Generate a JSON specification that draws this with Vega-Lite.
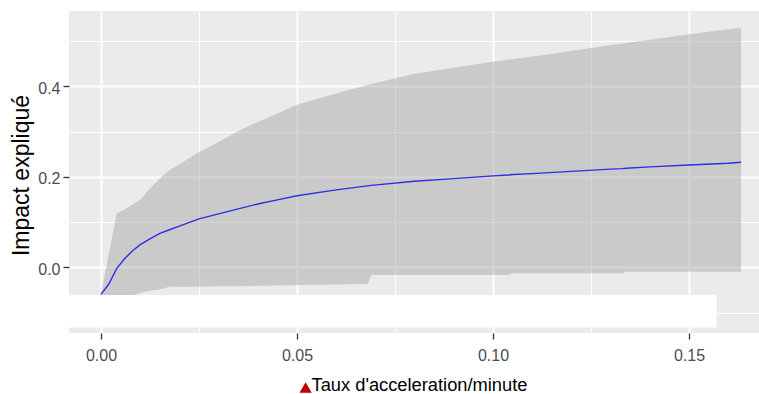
{
  "$schema": "https://vega.github.io/schema/vega-lite/v6.json",
  "width": 690,
  "height": 322,
  "autosize": {"type": "none"},
  "padding": {"left": 69, "top": 11, "right": 0, "bottom": 61},
  "background": "white",
  "config": {
    "view": {"fill": "#EBEBEB", "stroke": null}
  },
  "datasets": {
    "fit": [
      {"x": 0, "fit": -0.060, "lo": -0.113, "hi": -0.060},
      {"x": 0.002, "fit": -0.037, "lo": -0.090, "hi": 0.030},
      {"x": 0.004, "fit": -0.003, "lo": -0.075, "hi": 0.119},
      {"x": 0.006, "fit": 0.019, "lo": -0.068, "hi": 0.128},
      {"x": 0.008, "fit": 0.036, "lo": -0.064, "hi": 0.138},
      {"x": 0.010, "fit": 0.050, "lo": -0.056, "hi": 0.149},
      {"x": 0.0125, "fit": 0.063, "lo": -0.052, "hi": 0.174},
      {"x": 0.015, "fit": 0.075, "lo": -0.049, "hi": 0.196},
      {"x": 0.0175, "fit": 0.083, "lo": -0.043, "hi": 0.215},
      {"x": 0.020, "fit": 0.091, "lo": -0.043, "hi": 0.228},
      {"x": 0.025, "fit": 0.107, "lo": -0.043, "hi": 0.254},
      {"x": 0.030, "fit": 0.118, "lo": -0.042, "hi": 0.277},
      {"x": 0.035, "fit": 0.129, "lo": -0.042, "hi": 0.301},
      {"x": 0.040, "fit": 0.140, "lo": -0.041, "hi": 0.321},
      {"x": 0.045, "fit": 0.149, "lo": -0.040, "hi": 0.340},
      {"x": 0.050, "fit": 0.158, "lo": -0.039, "hi": 0.359},
      {"x": 0.060, "fit": 0.171, "lo": -0.038, "hi": 0.384},
      {"x": 0.068, "fit": 0.180, "lo": -0.037, "hi": 0.403},
      {"x": 0.069, "fit": 0.181, "lo": -0.017, "hi": 0.405},
      {"x": 0.080, "fit": 0.190, "lo": -0.017, "hi": 0.428},
      {"x": 0.090, "fit": 0.196, "lo": -0.017, "hi": 0.441},
      {"x": 0.100, "fit": 0.202, "lo": -0.017, "hi": 0.454},
      {"x": 0.104, "fit": 0.204, "lo": -0.017, "hi": 0.459},
      {"x": 0.105, "fit": 0.205, "lo": -0.013, "hi": 0.460},
      {"x": 0.110, "fit": 0.207, "lo": -0.013, "hi": 0.466},
      {"x": 0.120, "fit": 0.212, "lo": -0.013, "hi": 0.478},
      {"x": 0.130, "fit": 0.217, "lo": -0.013, "hi": 0.491},
      {"x": 0.133, "fit": 0.218, "lo": -0.013, "hi": 0.494},
      {"x": 0.134, "fit": 0.219, "lo": -0.010, "hi": 0.496},
      {"x": 0.140, "fit": 0.222, "lo": -0.010, "hi": 0.503},
      {"x": 0.150, "fit": 0.226, "lo": -0.010, "hi": 0.515},
      {"x": 0.160, "fit": 0.230, "lo": -0.010, "hi": 0.526},
      {"x": 0.1633, "fit": 0.232, "lo": -0.010, "hi": 0.530}
    ],
    "cover": [
      {"x1": -0.00816, "x2": 0.15707, "y1": -0.0612, "y2": -0.133}
    ],
    "marker": [
      {"x": 0.0522, "y": -0.2656}
    ]
  },
  "layer": [
    {
      "data": {"name": "fit"},
      "mark": {"type": "area", "fill": "#999999", "fillOpacity": 0.4},
      "encoding": {
        "x": {
          "field": "x", "type": "quantitative",
          "scale": {"domain": [-0.00816, 0.16786], "nice": false, "zero": false},
          "axis": {
            "values": [0, 0.025, 0.05, 0.075, 0.1, 0.125, 0.15],
            "format": ".2f",
            "labelExpr": "abs(datum.value*20 - round(datum.value*20)) < 1e-6 ? datum.label : ''",
            "domain": false,
            "grid": true,
            "gridColor": "white",
            "gridWidth": {"condition": {"test": "abs(datum.value*20 - round(datum.value*20)) < 1e-6", "value": 1.8}, "value": 1},
            "tickOpacity": {"condition": {"test": "abs(datum.value*20 - round(datum.value*20)) < 1e-6", "value": 1}, "value": 0},
            "tickColor": "#333333", "tickSize": 6, "tickWidth": 1.3,
            "labelFont": "Liberation Sans", "labelFontSize": 16, "labelColor": "#4D4D4D",
            "labelPadding": 8, "labelFlush": false, "labelOverlap": false, "labelBound": false,
            "title": "Taux d'acceleration/minute",
            "titleFont": "Liberation Sans", "titleFontSize": 18.3, "titleFontWeight": "normal",
            "titleColor": "#000000", "titleX": 350, "titleY": 57, "titleBaseline": "alphabetic", "titleAlign": "center"
          }
        },
        "y": {
          "field": "lo", "type": "quantitative",
          "scale": {"domain": [-0.1452, 0.5664], "nice": false, "zero": false},
          "axis": {
            "values": [-0.1, 0, 0.1, 0.2, 0.3, 0.4, 0.5],
            "format": ".1f",
            "labelExpr": "abs(datum.value*5 - round(datum.value*5)) < 1e-6 ? datum.label : ''",
            "domain": false,
            "grid": true,
            "gridColor": "white",
            "gridWidth": {"condition": {"test": "abs(datum.value*5 - round(datum.value*5)) < 1e-6", "value": 1.8}, "value": 1},
            "tickOpacity": {"condition": {"test": "abs(datum.value*5 - round(datum.value*5)) < 1e-6", "value": 1}, "value": 0},
            "tickColor": "#333333", "tickSize": 6, "tickWidth": 1.3,
            "labelFont": "Liberation Sans", "labelFontSize": 16, "labelColor": "#4D4D4D",
            "labelPadding": 3, "labelOffset": 2, "labelFlush": false, "labelOverlap": false, "labelBound": false,
            "title": "Impact expliqué",
            "titleFont": "Liberation Sans", "titleFontSize": 23, "titleFontWeight": "normal",
            "titleColor": "#000000", "titleX": -41, "titleY": 164, "titleAngle": -90,
            "titleBaseline": "alphabetic", "titleAlign": "center"
          }
        },
        "y2": {"field": "hi"}
      }
    },
    {
      "data": {"name": "fit"},
      "mark": {"type": "line", "color": "#2E2EE6", "strokeWidth": 1.4},
      "encoding": {
        "x": {"field": "x", "type": "quantitative"},
        "y": {"field": "fit", "type": "quantitative"}
      }
    },
    {
      "data": {"name": "cover"},
      "mark": {"type": "rect", "fill": "white"},
      "encoding": {
        "x": {"field": "x1", "type": "quantitative"},
        "x2": {"field": "x2"},
        "y": {"field": "y1", "type": "quantitative"},
        "y2": {"field": "y2"}
      }
    },
    {
      "data": {"name": "marker"},
      "mark": {"type": "point", "shape": "triangle-up", "filled": true, "color": "#C00000", "size": 150, "opacity": 1},
      "encoding": {
        "x": {"field": "x", "type": "quantitative"},
        "y": {"field": "y", "type": "quantitative"}
      }
    }
  ]
}
